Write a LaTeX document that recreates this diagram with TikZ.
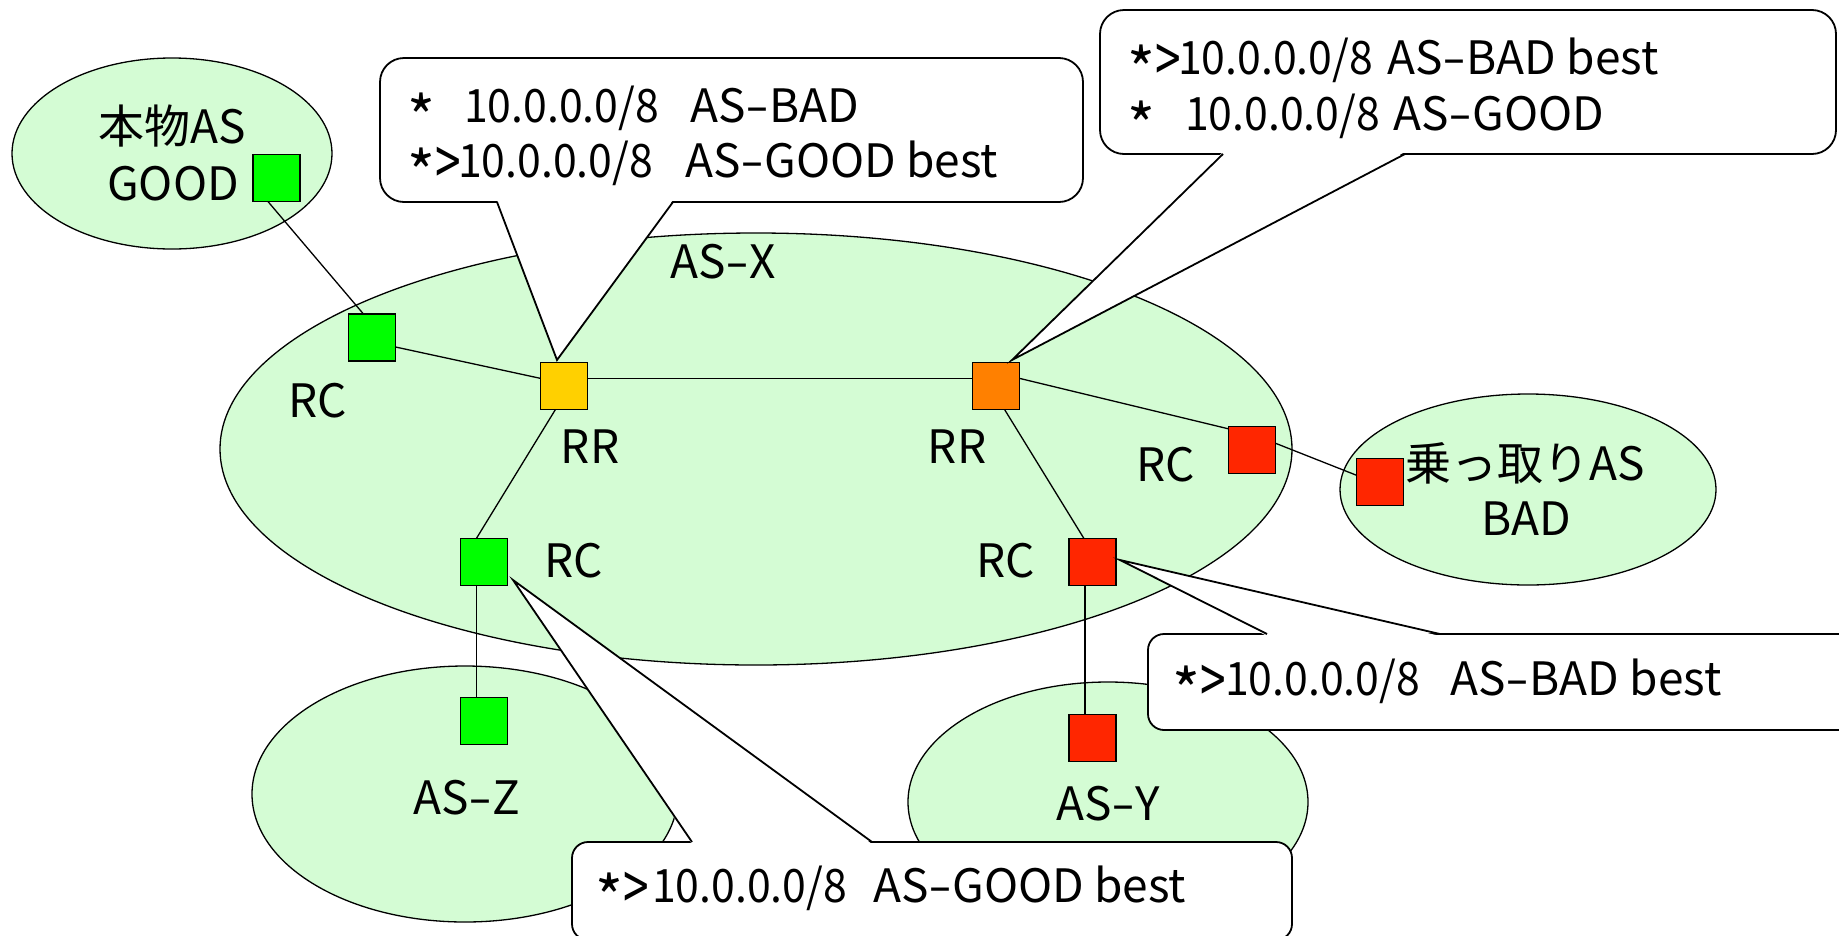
\documentclass[tikz,border=0pt]{standalone}
\usepackage{fontspec}
\usepackage{graphicx}
\setmainfont{Noto Sans CJK JP}
\usetikzlibrary{shapes.geometric,calc}
\definecolor{asgreen}{RGB}{212,252,212}
\definecolor{sqgreen}{RGB}{0,255,0}
\definecolor{sqyellow}{RGB}{255,208,0}
\definecolor{sqorange}{RGB}{255,128,0}
\definecolor{sqred}{RGB}{255,38,0}
\newcommand{\rast}{\raisebox{-18pt}{\scalebox{1.3}{*}}}
\newcommand{\rgt}{\raisebox{-8pt}{\scalebox{1}[1.4]{>}}}
\newcommand{\hy}{\scalebox{1.5}[1]{-}}
\newcommand{\pfx}{\scalebox{0.93}[1]{10.0.0.0/8}}
\tikzset{
 asell/.style={ellipse, draw, fill=asgreen, line width=1.3pt, inner sep=0pt, outer sep=0pt},
 sq/.style={rectangle, draw, line width=1.6pt, minimum size=47pt, inner sep=0pt, outer sep=0pt},
 link/.style={line width=1.3pt},
 lbl/.style={anchor=base, inner sep=0pt, font=\fontsize{46pt}{55pt}\selectfont},
 ctext/.style={anchor=base west, inner sep=0pt, font=\fontsize{46pt}{55pt}\selectfont},
 cbox/.style={rectangle, draw, fill=white, line width=1.8pt, inner sep=0pt, outer sep=0pt},
 cline/.style={line width=1.8pt, line join=miter},
}
\begin{document}
\begin{tikzpicture}[x=1pt,y=-1pt]
\useasboundingbox (0,0) rectangle (1839,935);
\clip (0,0) rectangle (1839,935);
% AS ellipses
\node[asell, minimum width=320pt, minimum height=191pt] (good) at (172,153.5) {};
\node[asell, minimum width=1072pt, minimum height=432pt] (asx) at (756,449) {};
\node[asell, minimum width=376pt, minimum height=191pt] (bad) at (1528,489.5) {};
\node[asell, minimum width=426pt, minimum height=256pt] (asz) at (465,794) {};
\node[asell, minimum width=400pt, minimum height=240pt] (asy) at (1108,802) {};
% routers
\node[sq, fill=sqgreen] (g1) at (276.5,178) {};
\node[sq, fill=sqgreen] (g2) at (372,337.5) {};
\node[sq, fill=sqyellow] (yr) at (564,386) {};
\node[sq, fill=sqorange] (orr) at (996,386) {};
\node[sq, fill=sqred] (r1) at (1252,450) {};
\node[sq, fill=sqred] (r2) at (1380,482) {};
\node[sq, fill=sqgreen] (g3) at (484,562) {};
\node[sq, fill=sqgreen] (g4) at (484,721) {};
\node[sq, fill=sqred] (r3) at (1092.5,562) {};
\node[sq, fill=sqred] (r4) at (1092.5,738) {};
% links
\draw[link] (g1.250) -- (g2.110);
\draw[link] (g2.-22) -- (yr.162);
\draw[link] (yr.18) -- (orr.162);
\draw[link] (yr.250) -- (g3.108);
\draw[link] (g3.252) -- (g4.108);
\draw[link] (orr.18) -- (r1.138);
\draw[link] (orr.290) -- (r3.110);
\draw[link] (r1.16) -- (r2.164);
\draw[link] (r3.252) -- (r4.108);
% labels
\node[lbl] (t1) at (172,143) {本物AS};
\node[lbl] (t2) at (173,200) {GOOD};
\node[lbl] (t3) at (723,278) {AS\hy X};
\node[lbl] (t4) at (318,417) {RC};
\node[lbl] (t5) at (590,463) {RR};
\node[lbl] (t6) at (957,463) {RR};
\node[lbl] (t7) at (1166,481) {RC};
\node[lbl] (t8) at (574,577) {RC};
\node[lbl] (t9) at (1006,577) {RC};
\node[lbl] (t10) at (467,814) {AS\hy Z};
\node[lbl] (t11) at (1108,820) {AS\hy Y};
\node[lbl] (t12) at (1525,480) {乗っ取りAS};
\node[lbl] (t13) at (1526,535) {BAD};
% callout 1
\node[cbox, rounded corners=24pt, minimum width=703pt, minimum height=144pt] (c1) at (731.5,130) {};
\coordinate (c1a) at (497,202);
\coordinate (c1b) at (673,202);
\coordinate (c1t) at (557,360);
\fill[white] ($(c1a)+(0,-2)$) -- (c1t) -- ($(c1b)+(0,-2)$) -- cycle;
\draw[cline] (c1a) -- (c1t) -- (c1b);
\node[ctext] (c1l1) at (407,122) {\makebox[57pt][l]{\rast}\makebox[226pt][l]{\pfx}AS\hy BAD};
\node[ctext] (c1l2) at (407,177) {\makebox[51pt][l]{\rast\rgt}\makebox[227pt][l]{\pfx}AS\hy GOOD best};
% callout 2
\node[cbox, rounded corners=24pt, minimum width=736pt, minimum height=144pt] (c2) at (1468,82) {};
\coordinate (c2a) at (1223,154);
\coordinate (c2b) at (1405,154);
\coordinate (c2t) at (1012,360);
\fill[white] ($(c2a)+(0,-2)$) -- (c2t) -- ($(c2b)+(0,-2)$) -- cycle;
\draw[cline] (c2a) -- (c2t) -- (c2b);
\node[ctext] (c2l1) at (1127,74) {\makebox[51pt][l]{\rast\rgt}\makebox[209pt][l]{\pfx}AS\hy BAD best};
\node[ctext] (c2l2) at (1127,130) {\makebox[58pt][l]{\rast}\makebox[208pt][l]{\pfx}AS\hy GOOD};
% callout 3
\node[cbox, rounded corners=16pt, minimum width=752pt, minimum height=96pt] (c3) at (1524,682) {};
\coordinate (c3a) at (1267,634);
\coordinate (c3b) at (1440,634);
\coordinate (c3t) at (1120,560);
\fill[white] ($(c3a)+(0,2)$) -- (c3t) -- ($(c3b)+(0,2)$) -- cycle;
\draw[cline] (c3a) -- (c3t) -- (c3b);
\node[ctext] (c3l1) at (1172,695) {\makebox[53pt][l]{\rast\rgt}\makebox[225pt][l]{\pfx}AS\hy BAD best};
% callout 4
\node[cbox, rounded corners=16pt, minimum width=720pt, minimum height=98pt] (c4) at (932,891) {};
\coordinate (c4a) at (692,842);
\coordinate (c4b) at (872,842);
\coordinate (c4t) at (513,580);
\fill[white] ($(c4a)+(0,2)$) -- (c4t) -- ($(c4b)+(0,2)$) -- cycle;
\draw[cline] (c4a) -- (c4t) -- (c4b);
\node[ctext] (c4l1) at (595,902) {\makebox[57pt][l]{\rast\rgt}\makebox[221pt][l]{\pfx}AS\hy GOOD best};
\end{tikzpicture}
\end{document}
